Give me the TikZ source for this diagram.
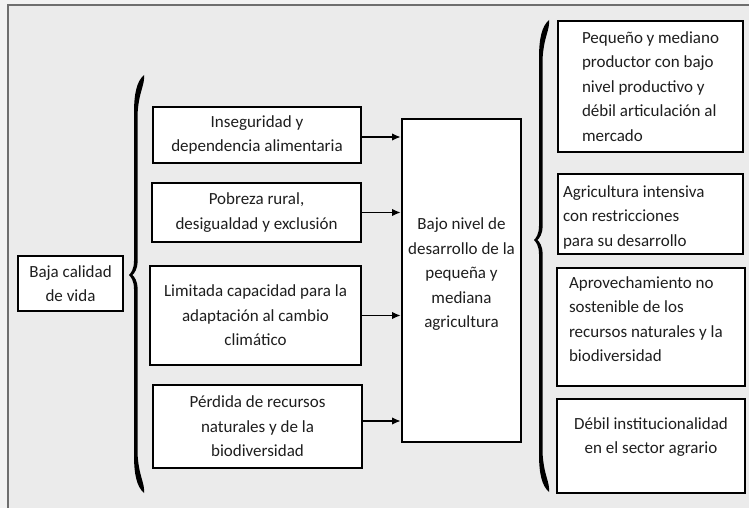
\documentclass[tikz,border=0pt]{standalone}
\usepackage{fontspec}
\setmainfont{Carlito}
\usetikzlibrary{arrows.meta}
\definecolor{pagebg}{HTML}{F2F2F2}
\definecolor{framebg}{HTML}{EBEBEB}
\definecolor{framecol}{HTML}{6E6E6E}
\definecolor{txt}{HTML}{1E1E1E}
% raised paragraph inside a box: #1 raise, #2 width, #3 content
\newcommand\bxt[3]{\raisebox{#1}[\height][\depth]{\parbox{#2}{#3}}}
% curly brace opening to the right: #1 stem x, #2 top y, #3 middle y, #4 bottom y
\newcommand\mybrace[4]{%
\fill ({#1+10},{#2}) .. controls ({#1+3},{#2+6}) and ({#1},{#2+18}) .. ({#1},{#2+38})
 -- ({#1},{#3-14}) .. controls ({#1},{#3-6}) and ({#1-3},{#3-2}) .. ({#1-5},{#3})
 .. controls ({#1-3},{#3+2}) and ({#1},{#3+6}) .. ({#1},{#3+14})
 -- ({#1},{#4-38}) .. controls ({#1},{#4-18}) and ({#1+3},{#4-6}) .. ({#1+10},{#4})
 .. controls ({#1+11},{#4-10}) and ({#1+5},{#4-16}) .. ({#1+3.6},{#4-38})
 -- ({#1+3.6},{#3+14}) .. controls ({#1+3.6},{#3+6}) and ({#1+0.5},{#3+2}) .. ({#1-1.5},{#3})
 .. controls ({#1+0.5},{#3-2}) and ({#1+3.6},{#3-6}) .. ({#1+3.6},{#3-14})
 -- ({#1+3.6},{#2+38}) .. controls ({#1+5},{#2+16}) and ({#1+11},{#2+10}) .. cycle;}
\begin{document}
\begin{tikzpicture}[x=1pt,y=-1pt,
  box/.style={draw=black, line width=2.9pt, fill=white, inner sep=0pt,
    font=\fontsize{17}{24.5}\selectfont, text=txt},
  arr/.style={line width=1.2pt, -{Latex[length=8.5pt,width=7.5pt]}}]
\useasboundingbox (0,0) rectangle (749,508);
\fill[pagebg] (0,0) rectangle (749,508);
\filldraw[fill=framebg, draw=framecol, line width=1.5pt] (8,5) rectangle (770,530);

% left box
\node[box, minimum width=105pt, minimum height=55pt] (baja) at (70.5,283.5)
  {\bxt{0pt}{100pt}{\centering Baja calidad\\ de vida}};

% causes
\node[box, minimum width=208pt, minimum height=56pt] (b1) at (257,135)
  {\bxt{0pt}{200pt}{\centering Inseguridad y\\ dependencia alimentaria}};
\node[box, minimum width=209pt, minimum height=59pt] (b2) at (256.5,212.5)
  {\bxt{0pt}{200pt}{\centering Pobreza rural,\\ desigualdad y exclusión}};
\node[box, minimum width=211pt, minimum height=99pt] (b3) at (255.5,315.5)
  {\bxt{0pt}{205pt}{\centering Limitada capacidad para la\\ adaptación al cambio\\ climático}};
\node[box, minimum width=209pt, minimum height=83pt] (b4) at (257.5,426.5)
  {\bxt{0pt}{200pt}{\centering Pérdida de recursos\\ naturales y de la\\ biodiversidad}};

% central box
\node[box, minimum width=119pt, minimum height=323pt] (c) at (461.5,280.5)
  {\bxt{6pt}{115pt}{\centering Bajo nivel de\\ desarrollo de la\\ pequeña y\\ mediana\\ agricultura}};

% right boxes
\node[box, minimum width=185pt, minimum height=131pt] (r1) at (650.5,86.5)
  {\bxt{0pt}{137pt}{\raggedright Pequeño y mediano\\ productor con bajo\\ nivel productivo y\\ débil articulación al\\ mercado}};
\node[box, minimum width=185pt, minimum height=80pt] (r2) at (650.5,214)
  {\bxt{-3pt}{175pt}{\raggedright Agricultura intensiva\\ con restricciones\\ para su desarrollo}};
\node[box, minimum width=188pt, minimum height=118pt] (r3) at (651,327)
  {\bxt{8pt}{164pt}{\raggedright Aprovechamiento no\\ sostenible de los\\ recursos naturales y la\\ biodiversidad}};
\node[box, minimum width=188pt, minimum height=94pt] (r4) at (651,446)
  {\bxt{9pt}{184pt}{\centering Débil institucionalidad\\ en el sector agrario}};

% arrows
\draw[arr] ([yshift=-2pt]b1.east) -- ([yshift=-2pt]b1.east -| c.west);
\draw[arr] (b2.east) -- (b2.east -| c.west);
\draw[arr] (b3.east) -- (b3.east -| c.west);
\draw[arr] ([yshift=5.5pt]b4.east) -- ([yshift=5.5pt]b4.east -| c.west);

% braces
\mybrace{134}{75}{275}{493}
\mybrace{539}{20}{240}{492}
\end{tikzpicture}
\end{document}
